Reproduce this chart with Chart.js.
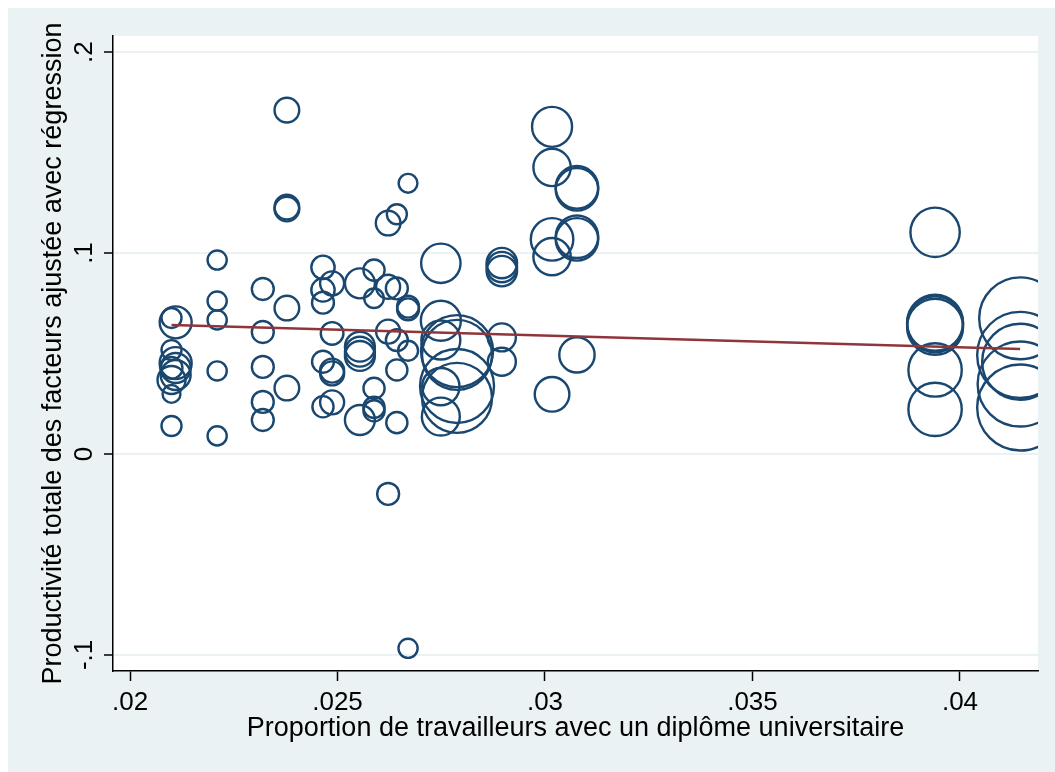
<!DOCTYPE html>
<html>
<head>
<meta charset="utf-8">
<script src="https://cdn.jsdelivr.net/npm/chart.js@4.4.1/dist/chart.umd.min.js"></script>
<style>
  html, body { margin: 0; padding: 0; background: #ffffff; }
  #wrap { width: 1055px; height: 772px; position: relative; }
</style>
</head>
<body>
<div id="wrap"><canvas id="graphique" width="1055" height="772"></canvas></div>
<script>
// Proportion de diplômés universitaires (axe x)
const proportion = [
  0.0210, 0.0211, 0.0210, 0.0211, 0.0211, 0.0211, 0.0210, 0.0210, 0.0210, 0.0210,
  0.0221, 0.0221, 0.0221, 0.0221, 0.0221,
  0.0232, 0.0232, 0.0232, 0.0232, 0.0232,
  0.02378, 0.02378, 0.02378, 0.02378, 0.02378,
  0.02465, 0.02465, 0.02465, 0.02465, 0.02465,
  0.02487, 0.02487, 0.02487, 0.02487, 0.02487,
  0.02554, 0.02554, 0.02554, 0.02554, 0.02554,
  0.02588, 0.02588, 0.02588, 0.02588, 0.02588,
  0.02622, 0.02622, 0.02622, 0.02622,
  0.02643, 0.02643, 0.02643, 0.02643, 0.02643,
  0.02670, 0.02670, 0.02670, 0.02670, 0.02670,
  0.02749, 0.02749, 0.02749, 0.02749, 0.02749,
  0.02788, 0.02788, 0.02788, 0.02788,
  0.02896, 0.02896, 0.02896, 0.02896, 0.02896,
  0.03017, 0.03017, 0.03017, 0.03017, 0.03017,
  0.03077, 0.03077, 0.03077, 0.03077, 0.03077,
  0.0394, 0.0394, 0.0394, 0.0394, 0.0394, 0.0394,
  0.04145, 0.04145, 0.04145, 0.04145, 0.04145
];

// Productivité totale des facteurs ajustée (axe y)
const productivite = [
  0.0677, 0.0655, 0.0517, 0.0452, 0.0428, 0.0393, 0.0368, 0.0428, 0.0299, 0.0139,
  0.0965, 0.0761, 0.0667, 0.0413, 0.0090,
  0.0821, 0.0607, 0.0433, 0.0259, 0.0169,
  0.1711, 0.1229, 0.1219, 0.0726, 0.0328,
  0.0929, 0.0816, 0.0753, 0.0459, 0.0235,
  0.0849, 0.0600, 0.0415, 0.0401, 0.0257,
  0.0849, 0.0534, 0.0509, 0.0488, 0.0169,
  0.0915, 0.0775, 0.0327, 0.0232, 0.0215,
  0.1149, 0.0832, 0.0609, -0.0199,
  0.1193, 0.0824, 0.0567, 0.0418, 0.0156,
  0.1347, 0.0733, 0.0720, 0.0514, -0.0967,
  0.0949, 0.0663, 0.0567, 0.0335, 0.0186,
  0.0512, 0.0493, 0.0338, 0.0279,
  0.0950, 0.0930, 0.0910, 0.0580, 0.0459,
  0.1628, 0.1426, 0.1068, 0.0982, 0.0297,
  0.1327, 0.1317, 0.1081, 0.1068, 0.0493,
  0.1103, 0.0653, 0.0645, 0.0633, 0.0418, 0.0222,
  0.0675, 0.0493, 0.0459, 0.0348, 0.0231
];

// Poids de chaque observation (aire des cercles)
const poids = [
  25, 64, 25, 64, 56, 56, 49, 30, 20, 25,
  23, 23, 23, 23, 23,
  30, 30, 30, 30, 30,
  38, 38, 38, 38, 38,
  34, 34, 30, 30, 28,
  36, 32, 36, 36, 36,
  56, 56, 56, 56, 56,
  28, 24, 28, 28, 28,
  38, 36, 36, 30,
  25, 30, 30, 28, 28,
  22, 30, 30, 25, 23,
  97, 100, 95, 87, 90,
  324, 306, 342, 306,
  58, 58, 58, 49, 49,
  100, 87, 113, 87, 75,
  113, 113, 113, 113, 78,
  152, 196, 196, 196, 178, 178,
  420, 462, 361, 452, 462
];

// Droite de régression (valeurs ajustées aux extrémités)
const droiteX = [0.0210, 0.04145];
const droiteY = [0.0642, 0.0522];

// Graduations
const xTicks = [0.02, 0.025, 0.03, 0.035, 0.04];
const xTickLabels = ['.02', '.025', '.03', '.035', '.04'];
const yTicks = [-0.1, 0, 0.1, 0.2];
const yTickLabels = ['-.1', '0', '.1', '.2'];

const titreX = 'Proportion de travailleurs avec un diplôme universitaire';
const titreY = 'Productivité totale des facteurs ajustée avec régression';

const FONT = 'Liberation Sans';
const BLEU = '#1A476F';
const ROUGE = '#90353B';
const FOND = '#EAF2F3';

const bulles = proportion.map((x, i) => ({ x: x, y: productivite[i], r: 2 * Math.sqrt(poids[i]) }));
const droite = droiteX.map((x, i) => ({ x: x, y: droiteY[i] }));

// Fond extérieur gris-bleu et zone de tracé blanche
const fondPlugin = {
  id: 'fond',
  beforeDraw(chart) {
    const { ctx, chartArea: a, width, height } = chart;
    ctx.save();
    ctx.fillStyle = '#ffffff';
    ctx.fillRect(0, 0, width, height);
    ctx.fillStyle = FOND;
    ctx.fillRect(8, 8, width - 8, height - 8);
    ctx.fillStyle = '#ffffff';
    ctx.fillRect(a.left, a.top, a.right - a.left, a.bottom - a.top);
    ctx.restore();
  }
};

// Étiquettes de l'axe y écrites verticalement
const etiquettesY = {
  id: 'etiquettesY',
  afterDraw(chart) {
    const { ctx } = chart;
    const s = chart.scales.y;
    ctx.save();
    ctx.font = '26px "' + FONT + '"';
    ctx.fillStyle = '#000';
    ctx.textAlign = 'center';
    ctx.textBaseline = 'alphabetic';
    yTicks.forEach((v, i) => {
      const py = s.getPixelForValue(v);
      ctx.save();
      ctx.translate(92, py);
      ctx.rotate(-Math.PI / 2);
      ctx.fillText(yTickLabels[i], 0, 0);
      ctx.restore();
    });
    ctx.restore();
  }
};

// Les axes ne réservent pas de marge pour déborder des étiquettes
function sansMarge(s) {
  s.paddingLeft = 0;
  s.paddingRight = 0;
  s.paddingTop = 0;
  s.paddingBottom = 0;
}

new Chart(document.getElementById('graphique'), {
  type: 'bubble',
  data: {
    datasets: [
      {
        type: 'line',
        data: droite,
        borderColor: ROUGE,
        borderWidth: 2.5,
        pointRadius: 0,
        fill: false,
        tension: 0,
        order: 0
      },
      {
        type: 'bubble',
        data: bulles,
        borderColor: BLEU,
        backgroundColor: 'rgba(0,0,0,0)',
        borderWidth: 2.4,
        hoverBorderWidth: 2.4,
        clip: 0,
        order: 1
      }
    ]
  },
  options: {
    responsive: false,
    animation: false,
    events: [],
    layout: { autoPadding: false, padding: { left: 0, top: 36, right: 17, bottom: 0 } },
    plugins: { legend: { display: false }, tooltip: { enabled: false } },
    scales: {
      x: {
        type: 'linear',
        min: 0.01959,
        max: 0.04188,
        afterBuildTicks: s => { s.ticks = xTicks.map(v => ({ value: v })); },
        afterFit: s => { s.height = 101; sansMarge(s); },
        ticks: {
          callback: (v, i) => xTickLabels[i],
          font: { family: FONT, size: 26 },
          color: '#000',
          padding: 6,
          maxRotation: 0,
          autoSkip: false
        },
        grid: { drawOnChartArea: false, drawTicks: true, tickLength: 10, tickColor: '#000', tickWidth: 1.5 },
        border: { color: '#000', width: 1.5 },
        title: {
          display: true,
          text: titreX,
          font: { family: FONT, size: 27 },
          color: '#000',
          padding: { top: 0, bottom: 27 }
        }
      },
      y: {
        type: 'linear',
        min: -0.108,
        max: 0.208,
        afterBuildTicks: s => { s.ticks = yTicks.map(v => ({ value: v })); },
        afterFit: s => { s.width = 113; sansMarge(s); },
        ticks: {
          callback: (v, i) => yTickLabels[i],
          font: { family: FONT, size: 26 },
          color: 'rgba(0,0,0,0)',
          autoSkip: false
        },
        grid: { color: FOND, lineWidth: 2, drawTicks: true, tickLength: 9, tickColor: '#000', tickWidth: 1.5 },
        border: { color: '#000', width: 1.5 },
        title: {
          display: true,
          text: titreY,
          font: { family: FONT, size: 27 },
          color: '#000',
          padding: { top: 37, bottom: 0 }
        }
      }
    }
  },
  plugins: [fondPlugin, etiquettesY]
});
</script>
</body>
</html>
